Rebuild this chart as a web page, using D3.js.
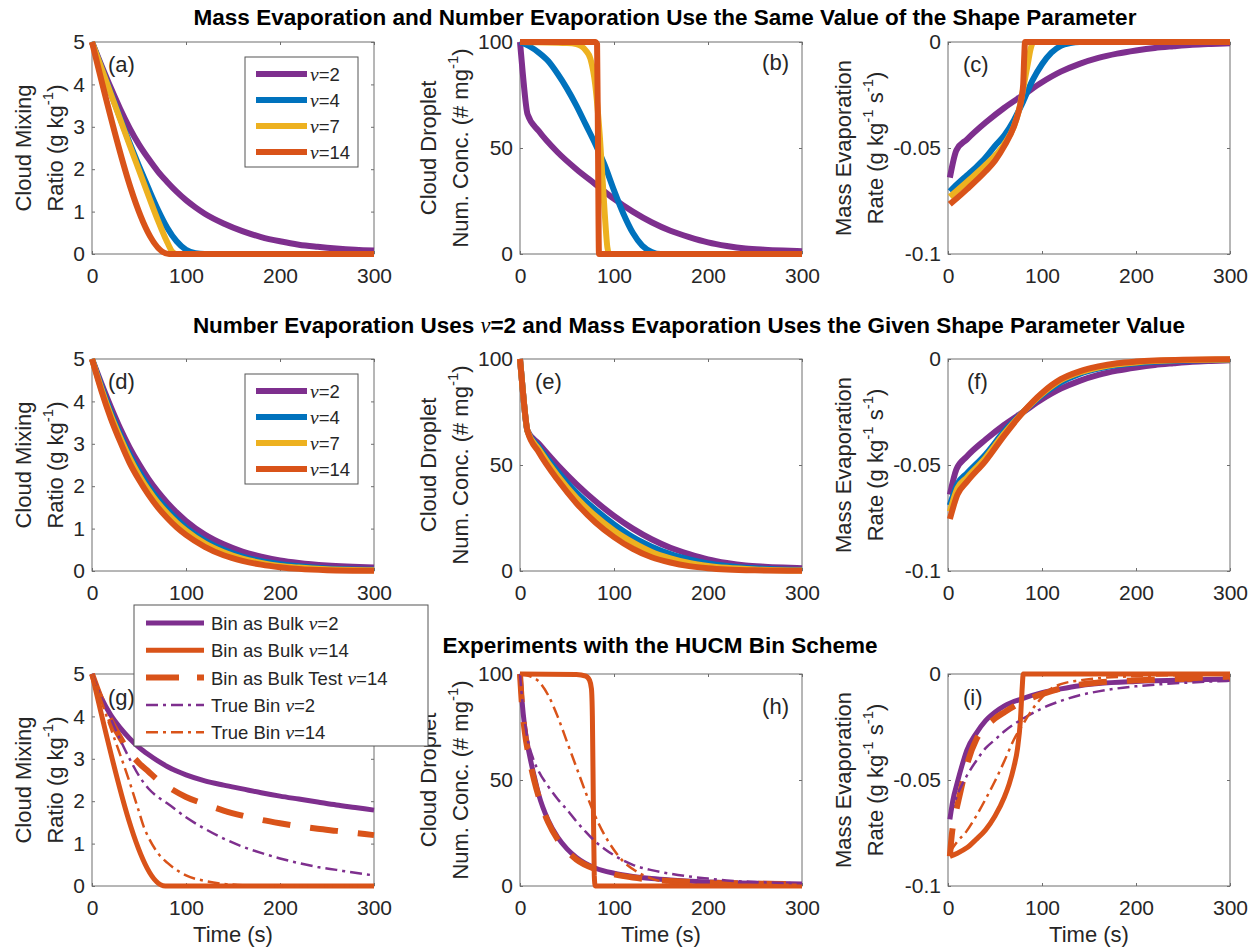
<!DOCTYPE html>
<html>
<head>
<meta charset="utf-8">
<script src="https://cdn.jsdelivr.net/npm/d3@7"></script>
<style>
body { margin: 0; background: #fff; }
text { font-family: Arial, "Liberation Sans", Helvetica, sans-serif; }
</style>
</head>
<body>
<div id="chart-area"></div>
<script>
// ---- data (time in s) ----
const xTicks = [0, 100, 200, 300];
const qTicks = [0, 1, 2, 3, 4, 5];
const nTicks = [0, 50, 100];
const rTicks = [-0.1, -0.05, 0];
const rTickLabels = ['-0.1', '-0.05', '0'];
const nuValues = [2, 4, 7, 14];

const rowTitles = [
    'Mass Evaporation and Number Evaporation Use the Same Value of the Shape Parameter',
    ['Number Evaporation Uses ', '=2 and Mass Evaporation Uses the Given Shape Parameter Value'],
    'Experiments with the HUCM Bin Scheme'
];

// row 1: same shape parameter
const q1_nu2 = [[0,5],[10,4.45],[20,3.92],[30,3.42],[40,2.97],[50,2.58],[60,2.25],[70,1.95],[80,1.7],[90,1.47],[100,1.27],[110,1.1],[120,0.95],[140,0.72],[160,0.54],[180,0.4],[200,0.3],[220,0.22],[240,0.17],[260,0.13],[280,0.1],[300,0.08]];
const q1_nu4 = [[0,5],[20,3.8],[40,2.62],[60,1.55],[70,1.05],[80,0.62],[90,0.3],[100,0.1],[110,0.02],[120,0],[300,0]];
const q1_nu7 = [[0,5],[20,3.78],[40,2.57],[60,1.38],[70,0.8],[80,0.28],[86,0.04],[90,0],[300,0]];
const q1_nu14 = [[0,5],[82,0],[300,0]];

const n1_nu2 = [[0,100],[3,85],[8,66],[20,58],[40,48],[60,40],[80,33],[100,26],[120,20],[140,15],[160,11],[180,8],[200,5.5],[220,3.8],[240,2.6],[260,2],[280,1.6],[300,1.3]];
const n1_nu4 = [[0,100],[10,98],[20,95],[30,91],[40,85],[50,78],[60,70],[70,61],[80,52],[90,42],[100,30],[110,19],[120,10],[130,4],[140,1],[150,0],[300,0]];
const n1_nu7 = [[0,100],[50,99.5],[60,99],[70,96],[75,92],[80,80],[85,55],[90,20],[93,3],[95,0],[300,0]];
const n1_nu14 = [[0,100],[80,100],[82,99],[83,50],[84,0],[300,0]];

const r1_nu2 = [[2,-0.064],[9,-0.051],[20,-0.046],[40,-0.038],[60,-0.031],[80,-0.025],[100,-0.019],[120,-0.014],[140,-0.0103],[160,-0.0075],[180,-0.0055],[200,-0.004],[220,-0.0028],[240,-0.002],[260,-0.0013],[280,-0.0009],[300,-0.0006]];
const r1_nu4 = [[2,-0.0705],[10,-0.067],[20,-0.063],[30,-0.059],[40,-0.0545],[50,-0.049],[60,-0.044],[70,-0.037],[80,-0.028],[90,-0.018],[100,-0.0105],[110,-0.005],[120,-0.0018],[130,-0.0005],[140,0],[300,0]];
const r1_nu7 = [[2,-0.073],[20,-0.066],[40,-0.058],[60,-0.048],[70,-0.04],[75,-0.033],[80,-0.022],[85,-0.01],[88,-0.003],[91,0],[300,0]];
const r1_nu14 = [[2,-0.0765],[10,-0.0735],[20,-0.0695],[40,-0.061],[50,-0.056],[60,-0.049],[70,-0.04],[75,-0.033],[78,-0.027],[80,-0.02],[81,-0.008],[82,0],[300,0]];

// row 2: number evaporation uses nu=2
const q2_nu2 = [[0,5],[10,4.42],[20,3.87],[30,3.36],[40,2.91],[50,2.52],[60,2.17],[70,1.87],[80,1.61],[90,1.38],[100,1.18],[120,0.86],[140,0.63],[160,0.46],[180,0.34],[200,0.25],[220,0.19],[250,0.13],[300,0.08]];
const q2_nu4 = [[0,5],[10,4.35],[20,3.75],[30,3.22],[40,2.75],[50,2.35],[60,2.0],[70,1.7],[80,1.45],[90,1.22],[100,1.02],[120,0.72],[140,0.5],[160,0.34],[180,0.23],[200,0.16],[220,0.11],[250,0.06],[300,0.03]];
const q2_nu7 = [[0,5],[10,4.3],[20,3.68],[30,3.15],[40,2.67],[50,2.26],[60,1.91],[70,1.61],[80,1.36],[90,1.14],[100,0.95],[120,0.65],[140,0.44],[160,0.29],[180,0.19],[200,0.12],[220,0.08],[250,0.04],[300,0.015]];
const q2_nu14 = [[0,5],[10,4.25],[20,3.6],[30,3.05],[40,2.55],[50,2.15],[60,1.8],[70,1.5],[80,1.25],[90,1.03],[100,0.85],[120,0.57],[140,0.37],[160,0.24],[180,0.15],[200,0.09],[220,0.05],[250,0.02],[300,0.005]];

const n2_nu2 = [[0,100],[3,85],[8,66],[20,60],[40,50],[60,41],[80,33],[100,26],[120,20],[140,15],[160,11],[180,8],[200,5.5],[220,3.8],[240,2.6],[260,2],[280,1.6],[300,1.3]];
const n2_nu4 = [[0,100],[3,85],[8,66],[20,58.5],[40,47],[60,37],[80,29],[100,22],[120,16],[140,11.5],[160,8],[180,5.5],[200,3.6],[220,2.4],[250,1.3],[300,0.5]];
const n2_nu7 = [[0,100],[3,85],[8,66],[20,57.5],[40,45],[60,34.5],[80,26],[100,19],[120,13.5],[140,9],[160,6],[180,3.8],[200,2.4],[220,1.5],[250,0.7],[300,0.2]];
const n2_nu14 = [[0,100],[3,85],[8,66],[20,56],[40,43],[60,32],[80,23],[100,16],[120,10.5],[140,6.5],[160,4],[180,2.3],[200,1.3],[220,0.7],[250,0.3],[300,0.1]];

const r2_nu2 = [[2,-0.064],[9,-0.052],[20,-0.046],[40,-0.038],[60,-0.031],[80,-0.025],[100,-0.019],[120,-0.014],[140,-0.0103],[160,-0.0075],[180,-0.0055],[200,-0.004],[220,-0.0028],[240,-0.002],[260,-0.0013],[280,-0.0009],[300,-0.0006]];
const r2_nu4 = [[2,-0.069],[10,-0.059],[20,-0.054],[40,-0.045],[60,-0.034],[80,-0.025],[100,-0.017],[120,-0.011],[140,-0.007],[160,-0.0045],[180,-0.003],[200,-0.002],[220,-0.0013],[250,-0.0007],[300,-0.0003]];
const r2_nu7 = [[2,-0.072],[10,-0.061],[20,-0.056],[40,-0.0465],[60,-0.035],[80,-0.025],[100,-0.0165],[120,-0.01],[140,-0.0063],[160,-0.004],[180,-0.0025],[200,-0.0016],[220,-0.001],[250,-0.0005],[300,-0.0002]];
const r2_nu14 = [[2,-0.0755],[10,-0.064],[20,-0.058],[40,-0.048],[60,-0.036],[80,-0.025],[100,-0.016],[120,-0.0095],[140,-0.0058],[160,-0.0035],[180,-0.002],[200,-0.0012],[220,-0.0007],[250,-0.0003],[300,-0.0001]];

// row 3: HUCM bin scheme experiments
const binLegend = ['Bin as Bulk ', 'Bin as Bulk ', 'Bin as Bulk Test ', 'True Bin ', 'True Bin '];
const binNu = [2, 14, 14, 2, 14];

const q3_bulk2 = [[0,5],[5,4.68],[10,4.43],[20,4.03],[30,3.73],[40,3.48],[50,3.27],[60,3.1],[70,2.95],[80,2.82],[90,2.71],[100,2.62],[120,2.48],[140,2.38],[160,2.29],[180,2.2],[200,2.12],[220,2.05],[240,1.98],[260,1.91],[280,1.85],[300,1.79]];
const q3_bulk14 = [[0,5],[78,0],[300,0]];
const q3_test14 = [[0,5],[10,4.4],[20,3.9],[30,3.5],[40,3.15],[50,2.9],[60,2.7],[70,2.5],[80,2.35],[100,2.1],[120,1.93],[140,1.78],[160,1.66],[180,1.56],[200,1.48],[220,1.41],[240,1.35],[260,1.3],[280,1.25],[300,1.2]];
const q3_true2 = [[0,5],[10,4.45],[20,3.95],[30,3.45],[40,3.0],[50,2.6],[60,2.3],[70,2.1],[80,1.95],[100,1.62],[120,1.35],[140,1.12],[160,0.93],[180,0.78],[200,0.65],[220,0.54],[240,0.45],[260,0.38],[280,0.31],[300,0.25]];
const q3_true14 = [[0,5],[20,3.72],[40,2.45],[50,1.75],[55,1.4],[60,1.15],[70,0.78],[80,0.55],[90,0.38],[100,0.25],[120,0.12],[140,0.05],[160,0.02],[180,0],[300,0]];

const n3_bulk2 = [[0,100],[2,88],[5,75],[10,62],[15,52],[20,43],[30,31],[40,23],[50,17.5],[60,13.5],[80,8.5],[100,6],[120,4.5],[140,3.5],[160,2.8],[200,1.9],[250,1.3],[300,1]];
const n3_bulk14 = [[0,100],[60,99.8],[70,99],[74,97],[76,93],[77,80],[78,40],[79,5],[80,0],[300,0]];
const n3_test14 = [[0,100],[2,86],[5,73],[10,60],[15,50],[20,42],[30,30],[40,22],[50,16.5],[60,12.5],[80,8],[100,5.5],[120,4],[140,3],[160,2.4],[200,1.6],[250,1.1],[300,0.8]];
const n3_true2 = [[0,100],[3,85],[7,72],[14,60],[20,54],[30,47],[40,41],[50,36],[60,30.5],[70,25.5],[80,21],[90,17.5],[100,14.5],[120,10],[140,7.5],[160,5.8],[180,4.5],[200,3.5],[220,2.6],[250,1.9],[300,1.2]];
const n3_true14 = [[0,100],[10,99],[20,96.5],[30,90],[40,80],[50,68],[60,56],[70,44],[80,33],[90,24],[100,17],[110,11.5],[120,8],[140,3.5],[160,1.5],[180,0.7],[200,0.3],[250,0.1],[300,0]];

const r3_bulk2 = [[2,-0.0686],[5,-0.06],[10,-0.051],[15,-0.043],[20,-0.036],[30,-0.028],[40,-0.022],[50,-0.018],[60,-0.015],[80,-0.0115],[100,-0.0088],[120,-0.007],[140,-0.0055],[160,-0.0045],[200,-0.0035],[250,-0.0028],[300,-0.0024]];
const r3_bulk14 = [[2,-0.086],[10,-0.0845],[20,-0.082],[30,-0.078],[40,-0.0735],[50,-0.067],[60,-0.058],[65,-0.052],[70,-0.044],[74,-0.035],[77,-0.022],[79,-0.006],[80,0],[300,0]];
const r3_test14 = [[2,-0.086],[4,-0.076],[8,-0.066],[12,-0.058],[20,-0.043],[30,-0.031],[40,-0.025],[50,-0.021],[60,-0.018],[80,-0.013],[100,-0.0095],[120,-0.0068],[140,-0.005],[160,-0.004],[200,-0.003],[250,-0.0023],[300,-0.002]];
const r3_true2 = [[2,-0.067],[10,-0.057],[20,-0.048],[30,-0.041],[40,-0.035],[50,-0.031],[60,-0.027],[80,-0.021],[100,-0.0162],[120,-0.0127],[140,-0.01],[160,-0.0082],[180,-0.0068],[200,-0.0058],[250,-0.0042],[300,-0.0032]];
const r3_true14 = [[2,-0.084],[10,-0.079],[20,-0.074],[30,-0.067],[40,-0.059],[50,-0.0505],[60,-0.041],[70,-0.031],[80,-0.0235],[90,-0.0165],[100,-0.011],[110,-0.0068],[120,-0.0048],[140,-0.003],[160,-0.002],[200,-0.001],[250,-0.0005],[300,-0.0003]];

// ---- styles ----
const purple = '#7E2F8E', blue = '#0072BD', yellow = '#EDB120', orange = '#D95319';
const nuColors = [purple, blue, yellow, orange];
const axisGray = '#6e6e6e';
const ink = '#262626';

const binStyles = [
    { color: purple, width: 5, dash: null },
    { color: orange, width: 5, dash: null },
    { color: orange, width: 6, dash: '28,20' },
    { color: purple, width: 2.5, dash: '12,5,3,5' },
    { color: orange, width: 2.5, dash: '12,5,3,5' }
];

// layout
const colLeft = [92, 520, 948];
const rowTop = [42, 359, 674];
const pw = 282, ph = 212;
const ylabOffsets = [[69, 37], [92, 60], [105, 73]];
const tickFont = 21, labelFont = 22, legendFont = 18.5;

const svg = d3.select('#chart-area')
    .append('svg')
        .attr('width', 1249)
        .attr('height', 949);

const x = d3.scaleLinear().domain([0, 300]).range([0, pw]);

const yKinds = {
    q: { domain: [0, 5], ticks: qTicks, fmt: d => String(d),
         lab: ['Cloud Mixing', ['Ratio (g kg', '-1', ')']] },
    n: { domain: [0, 100], ticks: nTicks, fmt: d => String(d),
         lab: ['Cloud Droplet', ['Num. Conc. (# mg', '-1', ')']] },
    r: { domain: [-0.1, 0], ticks: rTicks, fmt: (d, i) => rTickLabels[i],
         lab: ['Mass Evaporation', ['Rate (g kg', '-1', ' s', '-1', ')']] }
};

function nuSeries(arrs) {
    return arrs.map((a, i) => ({ data: a, color: nuColors[i], width: 6, dash: null }));
}
function binSeries(arrs) {
    return arrs.map((a, i) => Object.assign({ data: a }, binStyles[i]));
}

const panels = [
    { row: 0, col: 0, kind: 'q', label: '(a)', lab: [16, 30, 'start'], series: nuSeries([q1_nu2, q1_nu4, q1_nu7, q1_nu14]) },
    { row: 0, col: 1, kind: 'n', label: '(b)', lab: [pw - 13, 28, 'end'], series: nuSeries([n1_nu2, n1_nu4, n1_nu7, n1_nu14]) },
    { row: 0, col: 2, kind: 'r', label: '(c)', lab: [15, 30, 'start'], series: nuSeries([r1_nu2, r1_nu4, r1_nu7, r1_nu14]) },
    { row: 1, col: 0, kind: 'q', label: '(d)', lab: [16, 30, 'start'], series: nuSeries([q2_nu2, q2_nu4, q2_nu7, q2_nu14]) },
    { row: 1, col: 1, kind: 'n', label: '(e)', lab: [15, 30, 'start'], series: nuSeries([n2_nu2, n2_nu4, n2_nu7, n2_nu14]) },
    { row: 1, col: 2, kind: 'r', label: '(f)', lab: [19, 30, 'start'], series: nuSeries([r2_nu2, r2_nu4, r2_nu7, r2_nu14]) },
    { row: 2, col: 0, kind: 'q', label: '(g)', lab: [16, 31, 'start'], series: binSeries([q3_bulk2, q3_bulk14, q3_test14, q3_true2, q3_true14]) },
    { row: 2, col: 1, kind: 'n', label: '(h)', lab: [pw - 13, 40, 'end'], series: binSeries([n3_bulk2, n3_bulk14, n3_test14, n3_true2, n3_true14]) },
    { row: 2, col: 2, kind: 'r', label: '(i)', lab: [15, 31, 'start'], series: binSeries([r3_bulk2, r3_bulk14, r3_test14, r3_true2, r3_true14]) }
];

function styleAxis(sel) {
    sel.attr('font-size', tickFont)
        .attr('font-family', 'Arial, "Liberation Sans", sans-serif')
        .attr('color', ink);
    sel.select('.domain').remove();
    sel.selectAll('line').attr('stroke', axisGray);
}

function drawPanel(p) {
    const k = yKinds[p.kind];
    const g = svg.append('g')
        .attr('transform', `translate(${colLeft[p.col]}, ${rowTop[p.row]})`);
    const y = d3.scaleLinear().domain(k.domain).range([ph, 0]);

    // axes (ticks inside, box on)
    g.append('g')
        .attr('transform', `translate(0, ${ph})`)
        .call(d3.axisBottom(x).tickValues(xTicks).tickSizeInner(-3).tickSizeOuter(0).tickPadding(14))
        .call(styleAxis);
    g.append('g')
        .call(d3.axisTop(x).tickValues(xTicks).tickSizeInner(-3).tickSizeOuter(0).tickFormat(''))
        .call(styleAxis);
    g.append('g')
        .call(d3.axisLeft(y).tickValues(k.ticks).tickSizeInner(-3).tickSizeOuter(0).tickPadding(7).tickFormat(k.fmt))
        .call(styleAxis);
    g.append('g')
        .attr('transform', `translate(${pw}, 0)`)
        .call(d3.axisRight(y).tickValues(k.ticks).tickSizeInner(-3).tickSizeOuter(0).tickFormat(''))
        .call(styleAxis);

    g.append('rect')
        .attr('x', 0).attr('y', 0)
        .attr('width', pw).attr('height', ph)
        .attr('fill', 'none')
        .attr('stroke', axisGray)
        .attr('stroke-width', 1);

    // y label, two lines
    const offs = ylabOffsets[p.col];
    g.append('text')
        .attr('transform', `translate(${-offs[0]}, ${ph / 2}) rotate(-90)`)
        .attr('text-anchor', 'middle')
        .attr('dominant-baseline', 'central')
        .attr('font-size', labelFont)
        .attr('fill', ink)
        .text(k.lab[0]);
    const t2 = g.append('text')
        .attr('transform', `translate(${-offs[1]}, ${ph / 2}) rotate(-90)`)
        .attr('text-anchor', 'middle')
        .attr('dominant-baseline', 'central')
        .attr('font-size', labelFont)
        .attr('fill', ink);
    k.lab[1].forEach((s, i) => {
        const sup = s === '-1';
        const prevSup = i > 0 && k.lab[1][i - 1] === '-1';
        t2.append('tspan')
            .attr('font-size', sup ? 15 : labelFont)
            .attr('dy', sup ? -8 : (prevSup ? 8 : 0))
            .text(s);
    });

    if (p.row === 2) {
        g.append('text')
            .attr('x', pw / 2)
            .attr('y', ph + 56)
            .attr('text-anchor', 'middle')
            .attr('font-size', labelFont)
            .attr('fill', ink)
            .text('Time (s)');
    }

    // curves
    const line = d3.line()
        .x(d => x(d[0]))
        .y(d => y(d[1]))
        .curve(d3.curveMonotoneX);
    p.series.forEach(s => {
        g.append('path')
            .attr('d', line(s.data))
            .attr('fill', 'none')
            .attr('stroke', s.color)
            .attr('stroke-width', s.width)
            .attr('stroke-linejoin', 'round')
            .attr('stroke-dasharray', s.dash);
    });

    // panel label
    g.append('text')
        .attr('x', p.lab[0])
        .attr('y', p.lab[1])
        .attr('text-anchor', p.lab[2])
        .attr('font-size', labelFont)
        .attr('fill', ink)
        .text(p.label);
}

panels.forEach(drawPanel);

// row titles
const titleX = [665, 689, 660];
const titleY = [24.5, 333, 653];
rowTitles.forEach((t, i) => {
    const txt = svg.append('text')
        .attr('x', titleX[i])
        .attr('y', titleY[i])
        .attr('text-anchor', 'middle')
        .attr('font-size', 22.5)
        .attr('font-weight', 'bold')
        .attr('fill', '#000');
    if (Array.isArray(t)) {
        txt.append('tspan').text(t[0]);
        txt.append('tspan')
            .attr('font-family', '"Liberation Serif", "DejaVu Serif", serif')
            .attr('font-style', 'italic')
            .attr('font-weight', 'normal')
            .text('ν');
        txt.append('tspan').text(t[1]);
    } else {
        txt.text(t);
    }
});

// legends
function nuText(sel, prefix, nu, size) {
    if (prefix) sel.append('tspan').text(prefix);
    sel.append('tspan')
        .attr('font-family', '"Liberation Serif", "DejaVu Serif", serif')
        .attr('font-style', 'italic')
        .attr('font-size', size + 1)
        .text('ν');
    sel.append('tspan').text('=' + nu);
}

[0, 1].forEach(row => {
    const lg = svg.append('g')
        .attr('transform', `translate(${colLeft[0] + 153}, ${rowTop[row] + 15})`);
    lg.append('rect')
        .attr('width', 113).attr('height', 110)
        .attr('fill', '#fff')
        .attr('stroke', '#555');
    nuValues.forEach((nu, i) => {
        const yy = 17 + i * 26;
        lg.append('line')
            .attr('x1', 11).attr('x2', 62)
            .attr('y1', yy).attr('y2', yy)
            .attr('stroke', nuColors[i])
            .attr('stroke-width', 6);
        const t = lg.append('text')
            .attr('x', 65).attr('y', yy + 7)
            .attr('font-size', legendFont)
            .attr('fill', ink);
        nuText(t, '', nu, legendFont);
    });
});

const blg = svg.append('g')
    .attr('transform', `translate(${colLeft[0] + 42}, ${rowTop[2] - 69})`);
blg.append('rect')
    .attr('width', 294).attr('height', 141)
    .attr('fill', '#fff')
    .attr('stroke', '#555');
binLegend.forEach((name, i) => {
    const yy = 18 + i * 27.3;
    const st = binStyles[i];
    blg.append('line')
        .attr('x1', 12).attr('x2', 70)
        .attr('y1', yy).attr('y2', yy)
        .attr('stroke', st.color)
        .attr('stroke-width', st.width)
        .attr('stroke-dasharray', st.dash === '28,20' ? '33,18' : st.dash);
    const t = blg.append('text')
        .attr('x', 77).attr('y', yy + 7)
        .attr('font-size', legendFont)
        .attr('fill', ink);
    nuText(t, name, binNu[i], legendFont);
});
</script>
</body>
</html>
